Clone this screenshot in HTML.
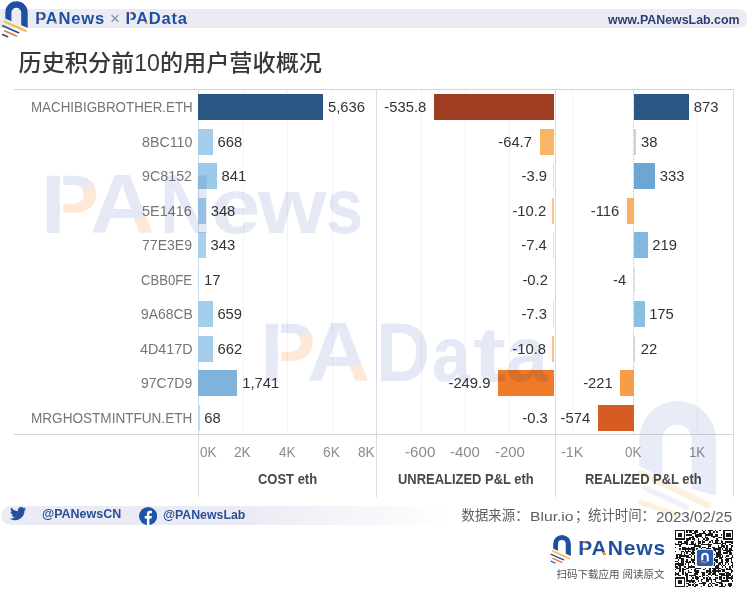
<!DOCTYPE html>
<html lang="zh"><head><meta charset="utf-8"><title>历史积分前10的用户营收概况</title>
<style>
html,body{margin:0;padding:0;background:#fff;}
body{width:750px;height:595px;position:relative;overflow:hidden;font-family:"Liberation Sans","Noto Sans CJK SC",sans-serif;}
.abs{position:absolute;}
.t{position:absolute;white-space:nowrap;}
.bar{position:absolute;height:26px;}
.vl{position:absolute;width:1px;background:#d5dce3;}
.gl{position:absolute;width:1px;background:#f1f3f5;top:90px;height:344px;}
.hl{position:absolute;height:1px;background:#d4d4d4;}
.hdr{position:absolute;left:0;top:9px;width:747px;height:19px;background:#ebebf4;border-radius:0 8px 8px 0;}
.ftr{position:absolute;left:1px;top:506px;width:470px;height:19px;border-radius:9.5px 0 0 9.5px;background:linear-gradient(90deg,#ebebf5 0,#ebebf5 250px,#ffffff 450px);}
.brand{font-weight:bold;color:#1f4f9f;}
.lp{background:linear-gradient(90deg,#1f4f9f 0,#1f4f9f 33%,rgba(0,0,0,0) 33%,rgba(0,0,0,0) 39%,#ee8527 39%,#e9773a 46%,#1f4f9f 68%);-webkit-background-clip:text;background-clip:text;color:transparent;}
.la{background:linear-gradient(152deg,#1f4f9f 0,#1f4f9f 70%,#f08a24 70.5%,#f08a24 100%);-webkit-background-clip:text;background-clip:text;color:transparent;}
</style></head><body>

<div class="hdr"></div>
<svg class="abs" style="left:0px;top:0px" width="40" height="45" viewBox="0 0 40 45"><path d="M5.3 18.6 V12.4 A11.2 11.2 0 0 1 27.7 12.4 V28 L21.2 25 V12.6 A4.9 4.9 0 0 0 11.4 12.6 V21.2 Z" fill="#1f4f9f"/>
<path d="M4.5 21.6 L25.8 31" stroke="#f3bd3a" stroke-width="2" stroke-linecap="round"/>
<path d="M2.7 25.8 L18.6 32.7" stroke="#2b4d8e" stroke-width="1.7" stroke-linecap="round"/>
<path d="M4.9 31 L16.3 36" stroke="#e9773a" stroke-width="1.7" stroke-linecap="round"/>
<path d="M2.7 34.5 L7.6 36.7" stroke="#2b4d8e" stroke-width="1.7" stroke-linecap="round"/></svg>
<div class="t brand" style="left:35.20px;top:8.04px;font-size:16.6px;line-height:22px;letter-spacing:0.75px"><span class="lp">P</span><span class="la">A</span>News</div>
<div class="t" style="left:110.33px;top:7.95px;font-size:16px;line-height:21px;color:#7d8bab;transform:scaleX(1.0626);transform-origin:0 0;">×</div>
<div class="t brand" style="left:125.60px;top:8.04px;font-size:16.6px;line-height:22px;letter-spacing:0.7px"><span class="lp">P</span><span class="la">A</span>Data</div>
<div class="t" style="left:607.64px;top:11.84px;font-size:12px;line-height:16px;color:#2c3f72;font-weight:bold;transform:scaleX(1.0327);transform-origin:0 0;">www.PANewsLab.com</div>
<div class="t" style="left:18.5px;top:44.8px;font-size:23.15px;line-height:36px;color:#383838;font-weight:500;">历史积分前10的用户营收概况</div>
<div class="hl" style="left:14px;top:89px;width:720px"></div>
<div class="hl" style="left:14px;top:434px;width:720px"></div>
<div class="gl" style="left:243px"></div>
<div class="gl" style="left:287px"></div>
<div class="gl" style="left:331.5px"></div>
<div class="gl" style="left:420.5px"></div>
<div class="gl" style="left:464.5px"></div>
<div class="gl" style="left:509px"></div>
<div class="gl" style="left:571.5px"></div>
<div class="gl" style="left:697px"></div>
<div class="vl" style="left:198px;top:89px;height:408px"></div>
<div class="vl" style="left:376px;top:89px;height:408px"></div>
<div class="vl" style="left:555px;top:89px;height:408px"></div>
<div class="vl" style="left:733px;top:89px;height:408px"></div>
<div class="abs" style="left:633px;top:90px;height:344px;width:0;border-left:1px dotted #c2c2c2"></div>
<div class="t" style="left:30.90px;top:98.36px;font-size:14.8px;line-height:19px;color:#757575;transform:scaleX(0.9025);transform-origin:0 0;">MACHIBIGBROTHER.ETH</div>
<div class="bar" style="left:198.3px;top:94.0px;width:125.1px;background:#2a5783"></div>
<div class="t" style="left:328.03px;top:98.36px;font-size:14.8px;line-height:19px;color:#333333;">5,636</div>
<div class="bar" style="left:434.3px;top:94.0px;width:120.0px;background:#9e3d22"></div>
<div class="t" style="left:384.36px;top:98.36px;font-size:14.8px;line-height:19px;color:#333333;">-535.8</div>
<div class="bar" style="left:634.0px;top:94.0px;width:55.2px;background:#2a5783"></div>
<div class="t" style="left:693.74px;top:98.36px;font-size:14.8px;line-height:19px;color:#333333;">873</div>
<div class="t" style="left:141.69px;top:132.86px;font-size:14.8px;line-height:19px;color:#757575;transform:scaleX(0.9633);transform-origin:0 0;">8BC110</div>
<div class="bar" style="left:198.3px;top:128.5px;width:14.8px;background:#a3cdea"></div>
<div class="t" style="left:217.59px;top:132.86px;font-size:14.8px;line-height:19px;color:#333333;">668</div>
<div class="bar" style="left:539.8px;top:128.5px;width:14.5px;background:#f8b565"></div>
<div class="t" style="left:498.22px;top:132.86px;font-size:14.8px;line-height:19px;color:#333333;">-64.7</div>
<div class="bar" style="left:634.0px;top:128.5px;width:2.4px;background:#c5d3de"></div>
<div class="t" style="left:641.04px;top:132.86px;font-size:14.8px;line-height:19px;color:#333333;">38</div>
<div class="t" style="left:142.24px;top:167.36px;font-size:14.8px;line-height:19px;color:#757575;transform:scaleX(0.9658);transform-origin:0 0;">9C8152</div>
<div class="bar" style="left:198.3px;top:163.0px;width:18.7px;background:#9cc9e8"></div>
<div class="t" style="left:221.53px;top:167.36px;font-size:14.8px;line-height:19px;color:#333333;">841</div>
<div class="bar" style="left:553.4px;top:163.0px;width:0.9px;background:#fcd6ab"></div>
<div class="t" style="left:521.50px;top:167.36px;font-size:14.8px;line-height:19px;color:#333333;">-3.9</div>
<div class="bar" style="left:634.0px;top:163.0px;width:21.0px;background:#6ea6d3"></div>
<div class="t" style="left:659.68px;top:167.36px;font-size:14.8px;line-height:19px;color:#333333;">333</div>
<div class="t" style="left:142.32px;top:201.86px;font-size:14.8px;line-height:19px;color:#757575;transform:scaleX(0.9779);transform-origin:0 0;">5E1416</div>
<div class="bar" style="left:198.3px;top:197.5px;width:7.7px;background:#a8d1ec"></div>
<div class="t" style="left:210.66px;top:201.86px;font-size:14.8px;line-height:19px;color:#333333;">348</div>
<div class="bar" style="left:552.0px;top:197.5px;width:2.3px;background:#f9c58c"></div>
<div class="t" style="left:512.41px;top:201.86px;font-size:14.8px;line-height:19px;color:#333333;">-10.2</div>
<div class="bar" style="left:626.7px;top:197.5px;width:7.3px;background:#f9b25f"></div>
<div class="t" style="left:590.79px;top:201.86px;font-size:14.8px;line-height:19px;color:#333333;">-116</div>
<div class="t" style="left:142.18px;top:236.36px;font-size:14.8px;line-height:19px;color:#757575;transform:scaleX(0.9510);transform-origin:0 0;">77E3E9</div>
<div class="bar" style="left:198.3px;top:232.0px;width:7.6px;background:#a8d1ec"></div>
<div class="t" style="left:210.55px;top:236.36px;font-size:14.8px;line-height:19px;color:#333333;">343</div>
<div class="bar" style="left:552.6px;top:232.0px;width:1.7px;background:#fcd6ab"></div>
<div class="t" style="left:521.23px;top:236.36px;font-size:14.8px;line-height:19px;color:#333333;">-7.4</div>
<div class="bar" style="left:634.0px;top:232.0px;width:13.8px;background:#82b8de"></div>
<div class="t" style="left:652.30px;top:236.36px;font-size:14.8px;line-height:19px;color:#333333;">219</div>
<div class="t" style="left:141.25px;top:270.86px;font-size:14.8px;line-height:19px;color:#757575;transform:scaleX(0.8842);transform-origin:0 0;">CBB0FE</div>
<div class="bar" style="left:198.3px;top:266.5px;width:0.4px;background:#b9ddf1"></div>
<div class="t" style="left:203.95px;top:270.86px;font-size:14.8px;line-height:19px;color:#333333;">17</div>
<div class="t" style="left:522.44px;top:270.86px;font-size:14.8px;line-height:19px;color:#333333;">-0.2</div>
<div class="bar" style="left:633.7px;top:266.5px;width:0.3px;background:#dddddd"></div>
<div class="t" style="left:613.02px;top:270.86px;font-size:14.8px;line-height:19px;color:#333333;">-4</div>
<div class="t" style="left:140.56px;top:305.36px;font-size:14.8px;line-height:19px;color:#757575;transform:scaleX(0.9389);transform-origin:0 0;">9A68CB</div>
<div class="bar" style="left:198.3px;top:301.0px;width:14.6px;background:#a3cdea"></div>
<div class="t" style="left:217.39px;top:305.36px;font-size:14.8px;line-height:19px;color:#333333;">659</div>
<div class="bar" style="left:552.7px;top:301.0px;width:1.6px;background:#fcd6ab"></div>
<div class="t" style="left:521.44px;top:305.36px;font-size:14.8px;line-height:19px;color:#333333;">-7.3</div>
<div class="bar" style="left:634.0px;top:301.0px;width:11.1px;background:#8bbfe2"></div>
<div class="t" style="left:649.14px;top:305.36px;font-size:14.8px;line-height:19px;color:#333333;">175</div>
<div class="t" style="left:139.68px;top:339.86px;font-size:14.8px;line-height:19px;color:#757575;transform:scaleX(0.9685);transform-origin:0 0;">4D417D</div>
<div class="bar" style="left:198.3px;top:335.5px;width:14.7px;background:#a3cdea"></div>
<div class="t" style="left:217.46px;top:339.86px;font-size:14.8px;line-height:19px;color:#333333;">662</div>
<div class="bar" style="left:551.9px;top:335.5px;width:2.4px;background:#f8c286"></div>
<div class="t" style="left:512.31px;top:339.86px;font-size:14.8px;line-height:19px;color:#333333;">-10.8</div>
<div class="bar" style="left:634.0px;top:335.5px;width:1.4px;background:#c9d3da"></div>
<div class="t" style="left:640.85px;top:339.86px;font-size:14.8px;line-height:19px;color:#333333;">22</div>
<div class="t" style="left:141.06px;top:374.36px;font-size:14.8px;line-height:19px;color:#757575;transform:scaleX(0.9428);transform-origin:0 0;">97C7D9</div>
<div class="bar" style="left:198.3px;top:370.0px;width:38.7px;background:#7fb3db"></div>
<div class="t" style="left:242.23px;top:374.36px;font-size:14.8px;line-height:19px;color:#333333;">1,741</div>
<div class="bar" style="left:498.3px;top:370.0px;width:56.0px;background:#ee7a2a"></div>
<div class="t" style="left:448.46px;top:374.36px;font-size:14.8px;line-height:19px;color:#333333;">-249.9</div>
<div class="bar" style="left:620.0px;top:370.0px;width:14.0px;background:#f79d47"></div>
<div class="t" style="left:583.13px;top:374.36px;font-size:14.8px;line-height:19px;color:#333333;">-221</div>
<div class="t" style="left:31.39px;top:408.86px;font-size:14.8px;line-height:19px;color:#757575;transform:scaleX(0.9168);transform-origin:0 0;">MRGHOSTMINTFUN.ETH</div>
<div class="bar" style="left:198.3px;top:404.5px;width:1.5px;background:#b9ddf1"></div>
<div class="t" style="left:204.27px;top:408.86px;font-size:14.8px;line-height:19px;color:#333333;">68</div>
<div class="t" style="left:522.34px;top:408.86px;font-size:14.8px;line-height:19px;color:#333333;">-0.3</div>
<div class="bar" style="left:597.7px;top:404.5px;width:36.3px;background:#d65c21"></div>
<div class="t" style="left:560.54px;top:408.86px;font-size:14.8px;line-height:19px;color:#333333;">-574</div>
<div class="t" style="left:200.07px;top:443.16px;font-size:14.8px;line-height:19px;color:#8c8c8c;transform:scaleX(0.9159);transform-origin:0 0;">0K</div>
<div class="t" style="left:234.42px;top:443.16px;font-size:14.8px;line-height:19px;color:#8c8c8c;transform:scaleX(0.9245);transform-origin:0 0;">2K</div>
<div class="t" style="left:278.60px;top:443.16px;font-size:14.8px;line-height:19px;color:#8c8c8c;transform:scaleX(0.9141);transform-origin:0 0;">4K</div>
<div class="t" style="left:323.01px;top:443.16px;font-size:14.8px;line-height:19px;color:#8c8c8c;transform:scaleX(0.9304);transform-origin:0 0;">6K</div>
<div class="t" style="left:357.72px;top:443.16px;font-size:14.8px;line-height:19px;color:#8c8c8c;transform:scaleX(0.9190);transform-origin:0 0;">8K</div>
<div class="t" style="left:404.73px;top:443.16px;font-size:14.8px;line-height:19px;color:#8c8c8c;transform:scaleX(1.0246);transform-origin:0 0;">-600</div>
<div class="t" style="left:449.54px;top:443.16px;font-size:14.8px;line-height:19px;color:#8c8c8c;transform:scaleX(1.0105);transform-origin:0 0;">-400</div>
<div class="t" style="left:494.64px;top:443.16px;font-size:14.8px;line-height:19px;color:#8c8c8c;transform:scaleX(1.0105);transform-origin:0 0;">-200</div>
<div class="t" style="left:560.77px;top:443.16px;font-size:14.8px;line-height:19px;color:#8c8c8c;transform:scaleX(0.9678);transform-origin:0 0;">-1K</div>
<div class="t" style="left:625.48px;top:443.16px;font-size:14.8px;line-height:19px;color:#8c8c8c;transform:scaleX(0.9044);transform-origin:0 0;">0K</div>
<div class="t" style="left:689.10px;top:443.16px;font-size:14.8px;line-height:19px;color:#8c8c8c;transform:scaleX(0.8862);transform-origin:0 0;">1K</div>
<div class="t" style="left:257.77px;top:470.00px;font-size:14.7px;line-height:19px;color:#484848;font-weight:bold;transform:scaleX(0.8830);transform-origin:0 0;">COST eth</div>
<div class="t" style="left:397.52px;top:470.00px;font-size:14.7px;line-height:19px;color:#484848;font-weight:bold;transform:scaleX(0.8819);transform-origin:0 0;">UNREALIZED P&amp;L eth</div>
<div class="t" style="left:585.35px;top:470.00px;font-size:14.7px;line-height:19px;color:#484848;font-weight:bold;transform:scaleX(0.8788);transform-origin:0 0;">REALIZED P&amp;L eth</div>
<div class="ftr"></div>
<svg class="abs" style="left:9.5px;top:507.3px" width="16.5" height="13.5" viewBox="0 0 24 19.6" preserveAspectRatio="none">
<path fill="#24509c" d="M23.6 2.400c-.9.400-1.800.700-2.800.800 1-.600 1.800-1.600 2.100-2.700-.9.600-2 1-3.100 1.200C18.900.700 17.600.100 16.300.100c-2.700 0-4.800 2.200-4.800 4.800 0 .400 0 .800.100 1.100-4-.200-7.600-2.100-10-5.100-.4.700-.6 1.600-.6 2.400 0 1.700.9 3.200 2.200 4-.8 0-1.500-.2-2.200-.6v.1c0 2.300 1.700 4.300 3.900 4.700-.4.100-.8.200-1.300.2-.3 0-.6 0-.9-.1.600 1.900 2.400 3.300 4.500 3.400-1.700 1.300-3.700 2.100-6 2.100-.4 0-.8 0-1.200-.1 2.100 1.400 4.700 2.200 7.400 2.200 8.900 0 13.700-7.400 13.700-13.700v-.6c.9-.7 1.800-1.500 2.400-2.500z"/>
</svg>
<div class="t" style="left:41.79px;top:506.04px;font-size:12px;line-height:16px;color:#2c4f93;font-weight:bold;transform:scaleX(1.0392);transform-origin:0 0;">@PANewsCN</div>
<svg class="abs" style="left:139.2px;top:506.5px" width="18.2" height="18.2" viewBox="0 0 18 18">
<circle cx="9" cy="9" r="9" fill="#1d55a5"/>
<path fill="#fff" d="M10.3 18V11.300h2.100l.35-2.500H10.300V7.300c0-.75.3-1.200 1.250-1.200h1.300V3.900c-.25-.05-1-.1-1.900-.1-1.900 0-3.150 1.150-3.150 3.250V8.800H5.700v2.500h2.100V18z"/>
</svg>
<div class="t" style="left:162.80px;top:506.64px;font-size:12px;line-height:16px;color:#2c4f93;font-weight:bold;transform:scaleX(1.0268);transform-origin:0 0;">@PANewsLab</div>
<div class="t" style="left:461.6px;top:506.4px;font-size:13.4px;line-height:20px;color:#5e5e5e">数据来源：</div>
<div class="t" style="left:530.12px;top:507.58px;font-size:13.6px;line-height:18px;color:#5e5e5e;transform:scaleX(1.1517);transform-origin:0 0;">Blur.io</div>
<div class="t" style="left:575px;top:506.4px;font-size:13.4px;line-height:20px;color:#5e5e5e">；</div>
<div class="t" style="left:588px;top:506.4px;font-size:13.4px;line-height:20px;color:#5e5e5e">统计时间：</div>
<div class="t" style="left:656.44px;top:507.54px;font-size:14px;line-height:18px;color:#5e5e5e;transform:scaleX(1.0858);transform-origin:0 0;">2023/02/25</div>
<svg class="abs" style="left:549.11px;top:533.55px" width="31.60" height="35.55" viewBox="0 0 40 45"><path d="M5.3 18.6 V12.4 A11.2 11.2 0 0 1 27.7 12.4 V28 L21.2 25 V12.6 A4.9 4.9 0 0 0 11.4 12.6 V21.2 Z" fill="#1f4f9f"/>
<path d="M4.5 21.6 L25.8 31" stroke="#f3bd3a" stroke-width="2" stroke-linecap="round"/>
<path d="M2.7 25.8 L18.6 32.7" stroke="#2b4d8e" stroke-width="1.7" stroke-linecap="round"/>
<path d="M4.9 31 L16.3 36" stroke="#e9773a" stroke-width="1.7" stroke-linecap="round"/>
<path d="M2.7 34.5 L7.6 36.7" stroke="#2b4d8e" stroke-width="1.7" stroke-linecap="round"/></svg>
<div class="t brand" style="left:578.21px;top:534.21px;font-size:21px;line-height:27px;letter-spacing:0.9px"><span class="lp">P</span><span class="la">A</span>News</div>
<div class="t" style="left:556.6px;top:564.5px;font-size:10.5px;line-height:18px;color:#555;">扫码下载应用 阅读原文</div>
<svg class="abs" style="left:675.4px;top:529.8px" width="58.4" height="57.199999999999996" viewBox="0 0 41 41" preserveAspectRatio="none" shape-rendering="crispEdges"><path fill="#1a1a1a" d="M0 0h7v1h-7zM8 0h5v1h-5zM14 0h2v1h-2zM19 0h1v1h-1zM21 0h1v1h-1zM23 0h4v1h-4zM28 0h1v1h-1zM31 0h1v1h-1zM34 0h7v1h-7zM0 1h1v1h-1zM6 1h1v1h-1zM8 1h1v1h-1zM10 1h2v1h-2zM13 1h3v1h-3zM20 1h1v1h-1zM24 1h1v1h-1zM27 1h1v1h-1zM29 1h1v1h-1zM34 1h1v1h-1zM40 1h1v1h-1zM0 2h1v1h-1zM2 2h3v1h-3zM6 2h1v1h-1zM12 2h3v1h-3zM17 2h5v1h-5zM23 2h4v1h-4zM34 2h1v1h-1zM36 2h3v1h-3zM40 2h1v1h-1zM0 3h1v1h-1zM2 3h3v1h-3zM6 3h1v1h-1zM8 3h4v1h-4zM14 3h5v1h-5zM21 3h6v1h-6zM28 3h2v1h-2zM32 3h1v1h-1zM34 3h1v1h-1zM36 3h3v1h-3zM40 3h1v1h-1zM0 4h1v1h-1zM2 4h3v1h-3zM6 4h1v1h-1zM12 4h1v1h-1zM14 4h5v1h-5zM21 4h1v1h-1zM25 4h5v1h-5zM34 4h1v1h-1zM36 4h3v1h-3zM40 4h1v1h-1zM0 5h1v1h-1zM6 5h1v1h-1zM10 5h3v1h-3zM15 5h1v1h-1zM19 5h1v1h-1zM21 5h2v1h-2zM27 5h1v1h-1zM30 5h3v1h-3zM34 5h1v1h-1zM40 5h1v1h-1zM0 6h7v1h-7zM8 6h3v1h-3zM12 6h2v1h-2zM16 6h1v1h-1zM20 6h1v1h-1zM22 6h2v1h-2zM29 6h1v1h-1zM34 6h7v1h-7zM8 7h2v1h-2zM13 7h1v1h-1zM16 7h1v1h-1zM19 7h1v1h-1zM21 7h2v1h-2zM25 7h2v1h-2zM28 7h3v1h-3zM32 7h1v1h-1zM2 8h3v1h-3zM6 8h3v1h-3zM11 8h2v1h-2zM16 8h2v1h-2zM19 8h2v1h-2zM24 8h1v1h-1zM26 8h1v1h-1zM28 8h2v1h-2zM32 8h2v1h-2zM35 8h6v1h-6zM0 9h1v1h-1zM2 9h1v1h-1zM4 9h5v1h-5zM11 9h2v1h-2zM14 9h1v1h-1zM16 9h2v1h-2zM19 9h1v1h-1zM23 9h1v1h-1zM27 9h5v1h-5zM33 9h3v1h-3zM39 9h2v1h-2zM0 10h5v1h-5zM8 10h1v1h-1zM10 10h5v1h-5zM16 10h1v1h-1zM18 10h8v1h-8zM32 10h2v1h-2zM35 10h1v1h-1zM38 10h1v1h-1zM3 11h1v1h-1zM13 11h5v1h-5zM23 11h2v1h-2zM30 11h1v1h-1zM32 11h3v1h-3zM36 11h1v1h-1zM39 11h2v1h-2zM0 12h1v1h-1zM5 12h3v1h-3zM9 12h1v1h-1zM11 12h3v1h-3zM17 12h1v1h-1zM19 12h3v1h-3zM23 12h1v1h-1zM26 12h2v1h-2zM30 12h3v1h-3zM34 12h1v1h-1zM36 12h1v1h-1zM39 12h1v1h-1zM3 13h1v1h-1zM5 13h9v1h-9zM15 13h1v1h-1zM18 13h1v1h-1zM22 13h3v1h-3zM27 13h5v1h-5zM33 13h1v1h-1zM35 13h2v1h-2zM38 13h2v1h-2zM7 14h1v1h-1zM9 14h1v1h-1zM12 14h2v1h-2zM27 14h2v1h-2zM30 14h2v1h-2zM34 14h7v1h-7zM0 15h1v1h-1zM4 15h2v1h-2zM7 15h4v1h-4zM12 15h1v1h-1zM28 15h1v1h-1zM30 15h2v1h-2zM36 15h3v1h-3zM4 16h1v1h-1zM6 16h1v1h-1zM8 16h1v1h-1zM11 16h3v1h-3zM29 16h3v1h-3zM34 16h3v1h-3zM38 16h2v1h-2zM1 17h4v1h-4zM6 17h1v1h-1zM10 17h1v1h-1zM12 17h1v1h-1zM27 17h1v1h-1zM29 17h4v1h-4zM38 17h2v1h-2zM1 18h1v1h-1zM3 18h7v1h-7zM11 18h1v1h-1zM13 18h1v1h-1zM29 18h3v1h-3zM33 18h1v1h-1zM36 18h2v1h-2zM40 18h1v1h-1zM1 19h3v1h-3zM8 19h3v1h-3zM13 19h1v1h-1zM28 19h2v1h-2zM31 19h3v1h-3zM35 19h1v1h-1zM39 19h2v1h-2zM0 20h2v1h-2zM3 20h3v1h-3zM11 20h1v1h-1zM13 20h1v1h-1zM27 20h1v1h-1zM31 20h2v1h-2zM36 20h4v1h-4zM2 21h1v1h-1zM4 21h2v1h-2zM8 21h1v1h-1zM11 21h3v1h-3zM27 21h3v1h-3zM32 21h2v1h-2zM35 21h3v1h-3zM39 21h1v1h-1zM0 22h2v1h-2zM4 22h2v1h-2zM7 22h2v1h-2zM10 22h1v1h-1zM12 22h1v1h-1zM28 22h2v1h-2zM32 22h2v1h-2zM36 22h2v1h-2zM39 22h1v1h-1zM2 23h1v1h-1zM4 23h2v1h-2zM8 23h3v1h-3zM12 23h2v1h-2zM27 23h1v1h-1zM29 23h1v1h-1zM31 23h3v1h-3zM35 23h2v1h-2zM39 23h2v1h-2zM0 24h6v1h-6zM7 24h1v1h-1zM9 24h1v1h-1zM13 24h1v1h-1zM27 24h1v1h-1zM30 24h2v1h-2zM33 24h1v1h-1zM35 24h1v1h-1zM37 24h1v1h-1zM40 24h1v1h-1zM0 25h1v1h-1zM2 25h4v1h-4zM9 25h1v1h-1zM11 25h1v1h-1zM27 25h1v1h-1zM29 25h2v1h-2zM32 25h1v1h-1zM34 25h1v1h-1zM39 25h2v1h-2zM0 26h2v1h-2zM3 26h1v1h-1zM6 26h2v1h-2zM9 26h5v1h-5zM28 26h3v1h-3zM33 26h1v1h-1zM35 26h1v1h-1zM38 26h1v1h-1zM40 26h1v1h-1zM1 27h3v1h-3zM5 27h1v1h-1zM8 27h2v1h-2zM14 27h4v1h-4zM21 27h1v1h-1zM24 27h1v1h-1zM26 27h6v1h-6zM36 27h1v1h-1zM38 27h1v1h-1zM0 28h1v1h-1zM3 28h1v1h-1zM5 28h3v1h-3zM11 28h1v1h-1zM13 28h2v1h-2zM20 28h1v1h-1zM24 28h1v1h-1zM27 28h2v1h-2zM30 28h1v1h-1zM32 28h3v1h-3zM36 28h4v1h-4zM3 29h1v1h-1zM5 29h1v1h-1zM9 29h1v1h-1zM13 29h4v1h-4zM22 29h3v1h-3zM26 29h6v1h-6zM33 29h2v1h-2zM39 29h2v1h-2zM0 30h1v1h-1zM2 30h1v1h-1zM5 30h1v1h-1zM7 30h1v1h-1zM9 30h3v1h-3zM14 30h3v1h-3zM18 30h3v1h-3zM22 30h1v1h-1zM24 30h2v1h-2zM27 30h2v1h-2zM30 30h1v1h-1zM35 30h3v1h-3zM39 30h1v1h-1zM0 31h3v1h-3zM5 31h1v1h-1zM7 31h2v1h-2zM13 31h3v1h-3zM19 31h2v1h-2zM23 31h2v1h-2zM26 31h3v1h-3zM31 31h4v1h-4zM36 31h3v1h-3zM0 32h1v1h-1zM2 32h2v1h-2zM7 32h2v1h-2zM10 32h5v1h-5zM19 32h2v1h-2zM22 32h1v1h-1zM25 32h1v1h-1zM28 32h2v1h-2zM32 32h7v1h-7zM40 32h1v1h-1zM8 33h1v1h-1zM11 33h1v1h-1zM14 33h2v1h-2zM17 33h1v1h-1zM19 33h1v1h-1zM23 33h1v1h-1zM31 33h2v1h-2zM36 33h2v1h-2zM39 33h2v1h-2zM0 34h7v1h-7zM8 34h1v1h-1zM12 34h1v1h-1zM14 34h3v1h-3zM20 34h1v1h-1zM22 34h1v1h-1zM24 34h1v1h-1zM28 34h2v1h-2zM31 34h2v1h-2zM34 34h1v1h-1zM36 34h5v1h-5zM0 35h1v1h-1zM6 35h1v1h-1zM8 35h1v1h-1zM11 35h1v1h-1zM15 35h1v1h-1zM18 35h2v1h-2zM22 35h4v1h-4zM27 35h2v1h-2zM31 35h2v1h-2zM36 35h1v1h-1zM39 35h1v1h-1zM0 36h1v1h-1zM2 36h3v1h-3zM6 36h1v1h-1zM8 36h6v1h-6zM16 36h1v1h-1zM18 36h1v1h-1zM22 36h2v1h-2zM25 36h1v1h-1zM28 36h1v1h-1zM32 36h6v1h-6zM40 36h1v1h-1zM0 37h1v1h-1zM2 37h3v1h-3zM6 37h1v1h-1zM10 37h1v1h-1zM12 37h1v1h-1zM14 37h1v1h-1zM19 37h3v1h-3zM25 37h1v1h-1zM29 37h4v1h-4zM0 38h1v1h-1zM2 38h3v1h-3zM6 38h1v1h-1zM8 38h2v1h-2zM13 38h1v1h-1zM17 38h5v1h-5zM24 38h1v1h-1zM26 38h2v1h-2zM31 38h3v1h-3zM37 38h3v1h-3zM0 39h1v1h-1zM6 39h1v1h-1zM9 39h2v1h-2zM12 39h1v1h-1zM14 39h2v1h-2zM20 39h1v1h-1zM23 39h1v1h-1zM25 39h1v1h-1zM28 39h2v1h-2zM32 39h2v1h-2zM35 39h1v1h-1zM37 39h3v1h-3zM0 40h7v1h-7zM8 40h1v1h-1zM13 40h2v1h-2zM18 40h1v1h-1zM23 40h2v1h-2zM26 40h1v1h-1zM31 40h4v1h-4zM38 40h1v1h-1z"/></svg>
<svg class="abs" style="left:695.7px;top:549.4px" width="18" height="17.8" viewBox="0 0 18 18">
<rect x="0" y="0" width="18" height="18" rx="2.2" fill="#fff"/>
<rect x="0.8" y="0.8" width="16.4" height="16.4" rx="1.8" fill="#2a5bb5"/>
<path d="M6.2 11.2 V7.6 A2.8 2.8 0 0 1 11.8 7.6 V12.6" fill="none" stroke="#fff" stroke-width="2"/>
<path d="M4.6 11.6 L10.4 13.8" stroke="#f3bd3a" stroke-width="0.8"/>
<path d="M4.4 13 L8.6 14.6" stroke="#e9773a" stroke-width="0.7"/>
</svg>
<style>
.wm{mix-blend-mode:multiply;color:#e4e9f5;font-weight:bold;}
.wp{background:linear-gradient(90deg,#e4e9f5,#e4e9f5) 0 0/18px 100% no-repeat,linear-gradient(172deg,#e4e9f5 0,#e4e9f5 31px,#fde9d5 41px,#fde9d5 100%) 21px 0/100% 100% no-repeat;-webkit-background-clip:text;background-clip:text;color:transparent;}
.wa{background:linear-gradient(155deg,rgba(255,255,255,0) 0,rgba(255,255,255,0) 30%,#fde9d5 30.5%,#fde9d5 100%) 31px 58px/40px 24px no-repeat,linear-gradient(90deg,#e4e9f5,#e4e9f5);-webkit-background-clip:text;background-clip:text;color:transparent;}
</style>
<div class="t wm" style="left:41.43px;top:153.57px;font-size:82.5px;line-height:100px;"><span class="wp" style="display:inline-block;width:72.43px;margin-right:-24px;font-size:82.5px;transform:scaleX(1.0603);transform-origin:0 0">P</span><span class="wa" style="display:inline-block;width:94.44px;margin-right:-24px;font-size:82.5px;transform:scaleX(1.0823);transform-origin:0 0">A</span><span style="display:inline-block;width:74.23px;margin-right:-24px;font-size:82.5px;transform:scaleX(0.8643);transform-origin:0 0">N</span><span style="display:inline-block;width:71.74px;margin-right:-24px;font-size:77px;transform:scaleX(1.1562);transform-origin:0 0">e</span><span style="display:inline-block;width:91.41px;margin-right:-24px;font-size:77px;transform:scaleX(1.1444);transform-origin:0 0">w</span><span style="display:inline-block;width:101.00px;margin-right:-24px;font-size:77px;transform:scaleX(0.8640);transform-origin:0 0">s</span></div>
<div class="t wm" style="left:259.68px;top:301.57px;font-size:82.5px;line-height:100px;"><span class="wp" style="display:inline-block;width:71.62px;margin-right:-24px;font-size:82.5px;transform:scaleX(1.0133);transform-origin:0 0">P</span><span class="wa" style="display:inline-block;width:92.72px;margin-right:-24px;font-size:82.5px;transform:scaleX(1.0570);transform-origin:0 0">A</span><span style="display:inline-block;width:79.97px;margin-right:-24px;font-size:82.5px;transform:scaleX(0.9125);transform-origin:0 0">D</span><span style="display:inline-block;width:64.81px;margin-right:-24px;font-size:77px;transform:scaleX(0.8950);transform-origin:0 0">a</span><span style="display:inline-block;width:57.70px;margin-right:-24px;font-size:77px;transform:scaleX(1.2903);transform-origin:0 0">t</span><span style="display:inline-block;width:101.00px;margin-right:-24px;font-size:77px;transform:scaleX(0.9801);transform-origin:0 0">a</span></div>
<svg class="abs" style="left:600px;top:380px;mix-blend-mode:multiply" width="150" height="170" viewBox="600 380 150 170">
<path d="M639.3 466 V439.4 A38.35 38.35 0 0 1 716 439.4 V495.5 L691.7 489 V439.4 A14.6 14.6 0 0 0 662.5 439.4 V478 Z" fill="#e8ecf6"/>
<path d="M641 473 L708 505" stroke="#fef0e0" stroke-width="6.5" stroke-linecap="round"/>
<path d="M645 488 L686 507" stroke="#eef1f8" stroke-width="5.5" stroke-linecap="round"/>
<path d="M641 502.5 L675 514.5" stroke="#fef0e0" stroke-width="5.5" stroke-linecap="round"/>
</svg>
</body></html>
